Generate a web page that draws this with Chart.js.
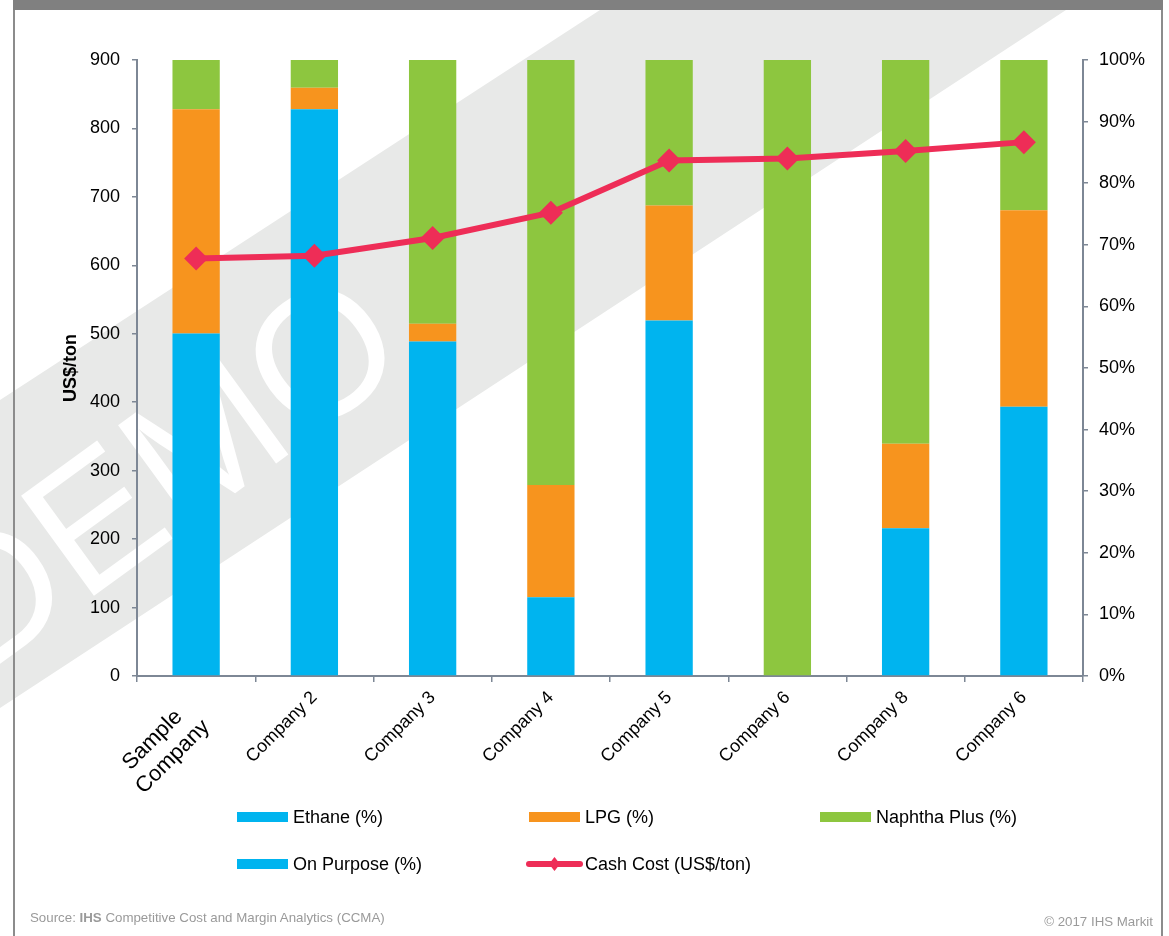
<!DOCTYPE html>
<html><head><meta charset="utf-8">
<script src="https://cdn.jsdelivr.net/npm/chart.js@4.4.1/dist/chart.umd.min.js"></script>
<style>
html,body{margin:0;padding:0;background:#fff;}
#wrap{position:relative;width:1169px;height:936px;overflow:hidden;background:#fff;}
#c{position:absolute;left:0;top:0;}
#frame{position:absolute;left:13px;top:0;width:1146px;height:980px;border-left:2px solid #8c8c8c;border-right:2px solid #8c8c8c;pointer-events:none;}
#topbar{position:absolute;left:13px;top:0;width:1150px;height:10px;background:#808080;}
.foot{position:absolute;font-family:'Liberation Sans',Arial,sans-serif;font-size:13.3px;color:#9a9a9a;white-space:nowrap;}
</style></head>
<body>
<div id="wrap">
<canvas id="c" width="1169" height="936"></canvas>
<div id="frame"></div>
<div id="topbar"></div>
<div class="foot" style="left:30px;top:910px;">Source: <b>IHS</b> Competitive Cost and Margin Analytics (CCMA)</div>
<div class="foot" style="right:16px;top:914px;">© 2017 IHS Markit</div>
</div>
<script>
const categories = [['Sample    ', 'Company  '], 'Company 2', 'Company 3', 'Company 4', 'Company 5', 'Company 6', 'Company 8', 'Company 6'];
const ethanePct   = [55.6, 92.0, 54.3, 12.8, 57.7, 0, 24.0, 43.7];
const lpgPct      = [36.4, 3.5, 2.9, 18.2, 18.7, 0, 13.7, 31.9];
const naphthaPct  = [8.0, 4.5, 42.8, 69.0, 23.6, 100, 62.3, 24.4];
const onPurposePct = [0, 0, 0, 0, 0, 0, 0, 0];
const cashCost    = [610, 614, 640, 677, 753, 756, 767, 780];
const leftTicks = { min: 0, max: 900, step: 100 };
const rightTicks = { min: 0, max: 100, step: 10 };

const C_ETH = '#00b4ef', C_LPG = '#f7941e', C_NAP = '#8dc63f', C_LINE = '#ee2d57';
const AXIS = '#7d8795';
const FONT = "'Liberation Sans', Arial, sans-serif";

const watermark = {
  id: 'watermark',
  beforeDraw(chart) {
    const ctx = chart.ctx;
    ctx.save();
    ctx.fillStyle = '#e8e9e8';
    ctx.beginPath();
    ctx.moveTo(600, 10); ctx.lineTo(1066, 10); ctx.lineTo(0, 708); ctx.lineTo(0, 400);
    ctx.closePath(); ctx.fill();
    ctx.translate(166, 482);
    ctx.rotate(-36 * Math.PI / 180);
    ctx.fillStyle = '#ffffff';
    ctx.font = "180px " + FONT;
    ctx.textAlign = 'center';
    ctx.textBaseline = 'middle';
    ctx.fillText('DEMO', 0, 0);
    ctx.restore();
  }
};

const customLegend = {
  id: 'customLegend',
  afterDraw(chart) {
    const ctx = chart.ctx;
    const pos = [[237, 817], [529, 817], [820, 817], [237, 864], [529, 864]];
    ctx.save();
    ctx.font = "18px " + FONT;
    ctx.textBaseline = 'middle';
    chart.data.datasets.forEach((ds) => {
      const [x, y] = pos[ds.legendIndex];
      if (ds.type === 'line') {
        ctx.strokeStyle = ds.borderColor; ctx.lineWidth = 6; ctx.lineCap = 'round';
        ctx.beginPath(); ctx.moveTo(x, y); ctx.lineTo(x + 51, y); ctx.stroke();
        ctx.fillStyle = ds.borderColor;
        ctx.beginPath(); ctx.moveTo(x + 25.5, y - 7); ctx.lineTo(x + 31, y); ctx.lineTo(x + 25.5, y + 7); ctx.lineTo(x + 20, y); ctx.closePath(); ctx.fill();
      } else {
        ctx.fillStyle = ds.backgroundColor;
        ctx.fillRect(x, y - 5, 51, 10);
      }
      ctx.fillStyle = '#000';
      ctx.fillText(ds.label, x + 56, y + 1);
    });
    ctx.restore();
  }
};

new Chart(document.getElementById('c'), {
  data: {
    labels: categories,
    datasets: [
      { type: 'line', label: 'Cash Cost (US$/ton)', legendIndex: 4, data: cashCost, yAxisID: 'y', order: 0,
        borderColor: C_LINE, backgroundColor: C_LINE, borderWidth: 6, tension: 0,
        pointStyle: 'rectRot', pointRadius: 12, pointHoverRadius: 12, pointBackgroundColor: C_LINE, pointBorderWidth: 0 },
      { type: 'bar', label: 'Ethane (%)', legendIndex: 0, data: ethanePct, backgroundColor: C_ETH, yAxisID: 'y1', stack: 'f', order: 1 },
      { type: 'bar', label: 'LPG (%)', legendIndex: 1, data: lpgPct, backgroundColor: C_LPG, yAxisID: 'y1', stack: 'f', order: 1 },
      { type: 'bar', label: 'Naphtha Plus (%)', legendIndex: 2, data: naphthaPct, backgroundColor: C_NAP, yAxisID: 'y1', stack: 'f', order: 1 },
      { type: 'bar', label: 'On Purpose (%)', legendIndex: 3, data: onPurposePct, backgroundColor: C_ETH, yAxisID: 'y1', stack: 'f', order: 1 }
    ]
  },
  options: {
    responsive: false,
    animation: false,
    layout: { padding: { top: 60, left: 0, right: 0, bottom: 0 } },
    datasets: { bar: { barPercentage: 0.4, categoryPercentage: 1.0, borderWidth: 0 } },
    plugins: { legend: { display: false }, tooltip: { enabled: false } },
    scales: {
      x: {
        stacked: true, offset: true,
        grid: { offset: true, drawOnChartArea: false, tickLength: 6, color: AXIS, lineWidth: 1.5 },
        border: { color: AXIS, width: 2 },
        ticks: { minRotation: 45, maxRotation: 45, autoSkip: false, color: '#000',
                 font: (c) => ({ family: FONT, size: c.index === 0 ? 22 : 18 }), padding: 5 },
        afterFit(s) { s.height = 260; }
      },
      y: {
        position: 'left', min: leftTicks.min, max: leftTicks.max,
        grid: { drawOnChartArea: false, tickLength: 5, color: AXIS, lineWidth: 1.5 },
        border: { color: AXIS, width: 2 },
        ticks: { stepSize: leftTicks.step, color: '#000', font: { family: FONT, size: 18 }, padding: 12 },
        title: { display: true, text: 'US$/ton', color: '#000', font: { family: FONT, size: 18, weight: 'bold' }, padding: { top: 60, bottom: 0 } },
        afterFit(s) { s.width = 137; }
      },
      y1: {
        position: 'right', stacked: true, min: rightTicks.min, max: rightTicks.max,
        grid: { drawOnChartArea: false, tickLength: 5, color: AXIS, lineWidth: 1.5 },
        border: { color: AXIS, width: 2 },
        ticks: { stepSize: rightTicks.step, color: '#000', font: { family: FONT, size: 18 }, padding: 11, callback: v => v + '%' },
        afterFit(s) { s.width = 86; }
      }
    }
  },
  plugins: [watermark, customLegend]
});
</script>
</body></html>
